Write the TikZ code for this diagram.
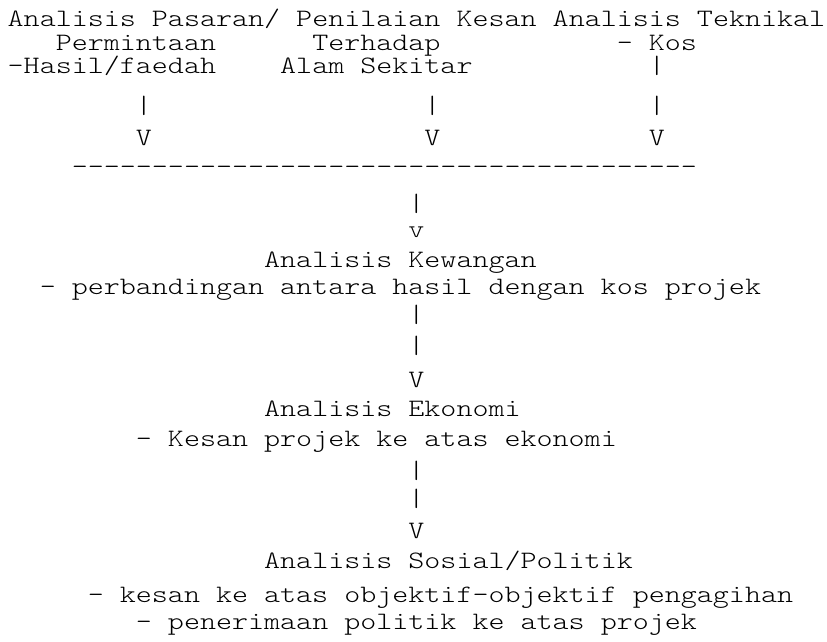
\documentclass[tikz,border=0pt]{standalone}
\usepackage{graphicx}
\usepackage{fontspec}
\setmonofont{lmmonolt10-regular.otf}
\newcommand\asctxt[1]{\scalebox{1}[0.82]{#1}}
\begin{document}
\begin{tikzpicture}[x=1pt,y=1pt,
  txt/.style={anchor=base west,inner sep=0pt,outer sep=0pt,font=\ttfamily\fontsize{30.53}{32}\selectfont,text=black}]
\fill[white] (0,0) rectangle (827,-641);
\useasboundingbox (0,0) rectangle (827,-641);
\def\cw{16.03}
\def\xo{7.7}
% line 1
\node[txt] (pasaran)  at ({\xo+0*\cw},-26) {\asctxt{Analisis Pasaran/}};
\node[txt] (penilaian) at ({\xo+18*\cw},-26) {\asctxt{Penilaian Kesan}};
\node[txt] (teknikal) at ({\xo+34*\cw},-26) {\asctxt{Analisis Teknikal}};
% line 2
\node[txt] (permintaan) at ({\xo+3*\cw},-50) {\asctxt{Permintaan}};
\node[txt] (terhadap) at ({\xo+19*\cw},-50) {\asctxt{Terhadap}};
\node[txt] (kos) at ({\xo+38*\cw},-50) {\asctxt{- Kos}};
% line 3
\node[txt] (hasil) at ({\xo+0*\cw},-73) {\asctxt{-Hasil/faedah}};
\node[txt] (alam) at ({\xo+17*\cw},-73) {\asctxt{Alam Sekitar}};
\node[txt] (pc) at ({\xo+40*\cw},-73) {\asctxt{|}};
% line 4
\node[txt] (pa1) at ({\xo+8*\cw},-113) {\asctxt{|}};
\node[txt] (pb1) at ({\xo+26*\cw},-113) {\asctxt{|}};
\node[txt] (pc1) at ({\xo+40*\cw},-113) {\asctxt{|}};
% line 5
\node[txt] (va) at ({\xo+8*\cw},-145) {\asctxt{V}};
\node[txt] (vb) at ({\xo+26*\cw},-145) {\asctxt{V}};
\node[txt] (vc) at ({\xo+40*\cw},-145) {\asctxt{V}};
% line 6
\node[txt] (bar) at ({\xo+4*\cw},-174) {\asctxt{---------------------------------------}};
% line 7-8
\node[txt] (p1) at ({\xo+25*\cw},-211) {\asctxt{|}};
\node[txt] (v1) at ({\xo+25*\cw},-237) {\asctxt{v}};
% line 9-10
\node[txt] (kewangan) at ({\xo+16*\cw},-267) {\asctxt{Analisis Kewangan}};
\node[txt] (kewangan2) at ({\xo+2*\cw},-294) {\asctxt{- perbandingan antara hasil dengan kos projek}};
% line 11-13
\node[txt] (p2) at ({\xo+25*\cw},-322) {\asctxt{|}};
\node[txt] (p3) at ({\xo+25*\cw},-353) {\asctxt{|}};
\node[txt] (v2) at ({\xo+25*\cw},-387) {\asctxt{V}};
% line 14-15
\node[txt] (ekonomi) at ({\xo+16*\cw},-416) {\asctxt{Analisis Ekonomi}};
\node[txt] (ekonomi2) at ({\xo+8*\cw},-446) {\asctxt{- Kesan projek ke atas ekonomi}};
% line 16-18
\node[txt] (p4) at ({\xo+25*\cw},-478) {\asctxt{|}};
\node[txt] (p5) at ({\xo+25*\cw},-506) {\asctxt{|}};
\node[txt] (v3) at ({\xo+25*\cw},-538) {\asctxt{V}};
% line 19-21
\node[txt] (sosial) at ({\xo+16*\cw},-568) {\asctxt{Analisis Sosial/Politik}};
\node[txt] (sosial2) at ({\xo+5*\cw},-602) {\asctxt{- kesan ke atas objektif-objektif pengagihan}};
\node[txt] (sosial3) at ({\xo+8*\cw},-629) {\asctxt{- penerimaan politik ke atas projek}};
\end{tikzpicture}
\end{document}
